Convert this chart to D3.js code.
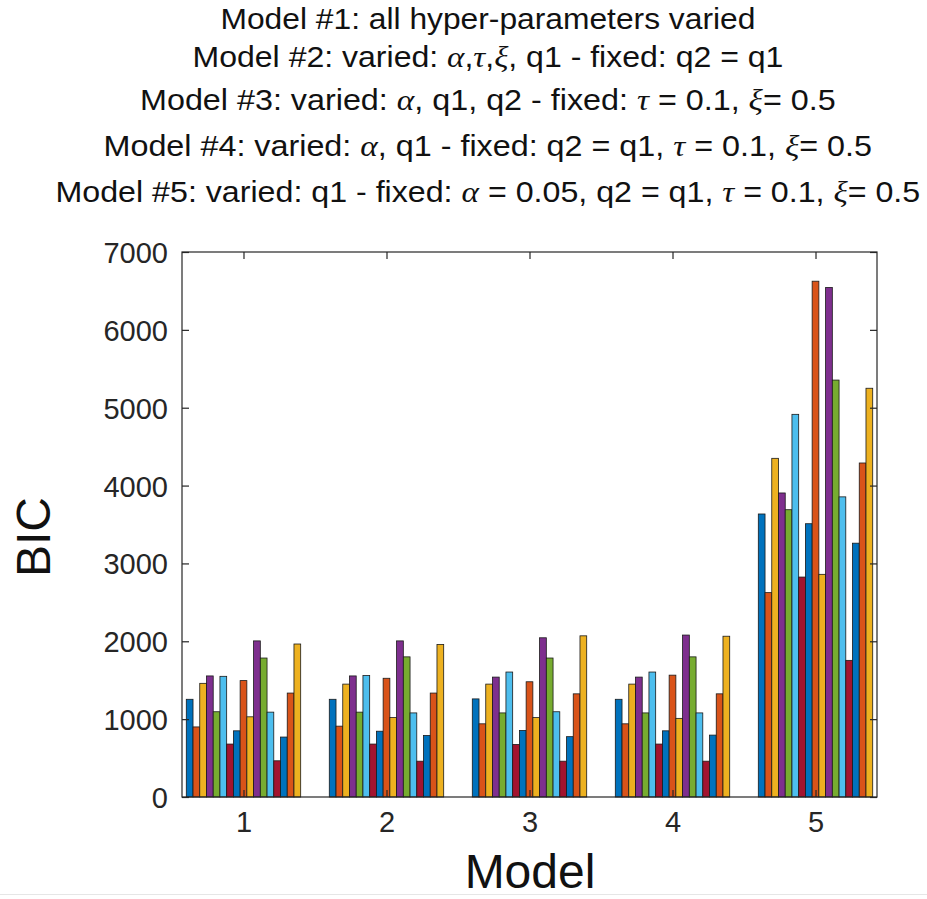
<!DOCTYPE html>
<html>
<head>
<meta charset="utf-8">
<script src="https://cdn.jsdelivr.net/npm/d3@7"></script>
<style>
  html, body { margin: 0; padding: 0; background: #fff; }
  svg { display: block; }
</style>
</head>
<body>
<svg id="chart" width="927" height="899"></svg>
<script>
// ---- data ----
const models = [1, 2, 3, 4, 5];
const model1 = [1255, 900, 1460, 1555, 1095, 1550, 680, 850, 1495, 1030, 2005, 1785, 1090, 465, 770, 1335, 1965];
const model2 = [1255, 910, 1450, 1555, 1090, 1560, 680, 845, 1525, 1020, 2005, 1800, 1080, 460, 790, 1335, 1960];
const model3 = [1260, 940, 1450, 1540, 1080, 1605, 675, 855, 1480, 1020, 2045, 1785, 1095, 460, 775, 1325, 2070];
const model4 = [1255, 940, 1450, 1540, 1080, 1605, 680, 850, 1565, 1010, 2080, 1800, 1080, 460, 795, 1325, 2065];
const model5 = [3635, 2625, 4350, 3905, 3690, 4915, 2825, 3510, 6625, 2860, 6545, 5355, 3855, 1755, 3260, 4290, 5250];
const yTicks = [0, 1000, 2000, 3000, 4000, 5000, 6000, 7000];
const xTickLabels = ["1", "2", "3", "4", "5"];
const palette = ["#0072BD", "#D95319", "#EDB120", "#7E2F8E", "#77AC30", "#4DBEEE", "#A2142F"];
// title lines: segments [text, isGreek]
const titleLines = [
  [["Model #1: all hyper-parameters varied", false]],
  [["Model #2: varied: ", false], ["α", true], [",", false], ["τ", true], [",", false], ["ξ", true], [", q1 - fixed: q2 = q1", false]],
  [["Model #3: varied: ", false], ["α", true], [", q1, q2 - fixed: ", false], ["τ", true], [" = 0.1, ", false], ["ξ", true], ["= 0.5", false]],
  [["Model #4: varied: ", false], ["α", true], [", q1 - fixed: q2 = q1, ", false], ["τ", true], [" = 0.1, ", false], ["ξ", true], ["= 0.5", false]],
  [["Model #5: varied: q1 - fixed: ", false], ["α", true], [" = 0.05, q2 = q1, ", false], ["τ", true], [" = 0.1, ", false], ["ξ", true], ["= 0.5", false]]
];
const titleWidths = [535, 591, 696, 769, 865];
const titleBaselines = [29, 67, 110, 156, 202];

const data = [model1, model2, model3, model4, model5];
const nSeries = model1.length;

// ---- layout ----
const svg = d3.select("#chart");
const L = 182, R = 877, T = 252, B = 797;
const axisColor = "#262626";
const font = "'Liberation Sans', Arial, Helvetica, sans-serif";

const x = d3.scaleLinear().domain([0.57, 5.43]).range([L, R]);
const y = d3.scaleLinear().domain([0, 7000]).range([B, T]);
const groupW = x(1.8) - x(1);
const inner = d3.scaleBand().domain(d3.range(nSeries)).range([-groupW / 2, groupW / 2]).padding(0);

// bars
const groups = svg.append("g").selectAll("g")
  .data(data)
  .join("g")
  .attr("transform", (d, i) => `translate(${x(models[i])},0)`);
groups.selectAll("rect")
  .data(d => d.map((v, j) => ({ v, j })))
  .join("rect")
  .attr("x", d => inner(d.j))
  .attr("width", inner.bandwidth())
  .attr("y", d => y(d.v))
  .attr("height", d => y(0) - y(d.v))
  .attr("fill", d => palette[d.j % palette.length])
  .attr("stroke", "#1a1a1a")
  .attr("stroke-width", 0.8);

// axes box
svg.append("rect")
  .attr("x", L).attr("y", T)
  .attr("width", R - L).attr("height", B - T)
  .attr("fill", "none")
  .attr("stroke", axisColor)
  .attr("stroke-width", 1.2);

const tickLen = 7;
const yAxisL = d3.axisLeft(y).tickValues(yTicks).tickSize(-tickLen).tickPadding(14).tickFormat(d3.format("d"));
const gyl = svg.append("g").attr("transform", `translate(${L},0)`).call(yAxisL);
const yAxisR = d3.axisRight(y).tickValues(yTicks).tickSize(-tickLen).tickFormat("");
const gyr = svg.append("g").attr("transform", `translate(${R},0)`).call(yAxisR);
const xAxisB = d3.axisBottom(x).tickValues(models).tickSize(-tickLen).tickPadding(14).tickFormat((d, i) => xTickLabels[i]);
const gxb = svg.append("g").attr("transform", `translate(0,${B})`).call(xAxisB);
const xAxisT = d3.axisTop(x).tickValues(models).tickSize(-tickLen).tickFormat("");
const gxt = svg.append("g").attr("transform", `translate(0,${T})`).call(xAxisT);

[gyl, gyr, gxb, gxt].forEach(g => {
  g.select(".domain").remove();
  g.selectAll(".tick line").attr("stroke", axisColor).attr("stroke-width", 1.2);
  g.selectAll(".tick text").attr("fill", axisColor).style("font-family", font).style("font-size", "29px");
});
gyl.selectAll(".tick text").attr("dy", "0.36em");
gxb.selectAll(".tick text").attr("dy", "0.71em");

// axis labels
svg.append("text")
  .attr("transform", "translate(50,537) rotate(-90)")
  .attr("text-anchor", "middle")
  .style("font-family", font).style("font-size", "48px")
  .attr("fill", "#111")
  .text("BIC");

svg.append("text")
  .attr("x", 530).attr("y", 888)
  .attr("text-anchor", "middle")
  .style("font-family", font).style("font-size", "48px")
  .attr("fill", "#111")
  .text("Model");

// title
titleLines.forEach((segs, i) => {
  const g = svg.append("g");
  const t = g.append("text")
    .style("font-family", font).style("font-size", "29px")
    .attr("fill", "#111");
  segs.forEach(([txt, greek]) => {
    const ts = t.append("tspan").text(txt);
    if (greek) ts.style("font-family", "'Liberation Serif', 'DejaVu Serif', serif").style("font-style", "italic").style("font-size", "30px");
  });
  const w = t.node().getComputedTextLength();
  const sx = titleWidths[i] / w;
  t.attr("x", -w / 2).attr("y", 0);
  g.attr("transform", `translate(488,${titleBaselines[i]}) scale(${sx},1)`);
});

// faint bottom edge line
svg.append("line").attr("x1", 0).attr("x2", 927).attr("y1", 894.5).attr("y2", 894.5)
  .attr("stroke", "#e6e6e6").attr("stroke-width", 1);
</script>
</body>
</html>
